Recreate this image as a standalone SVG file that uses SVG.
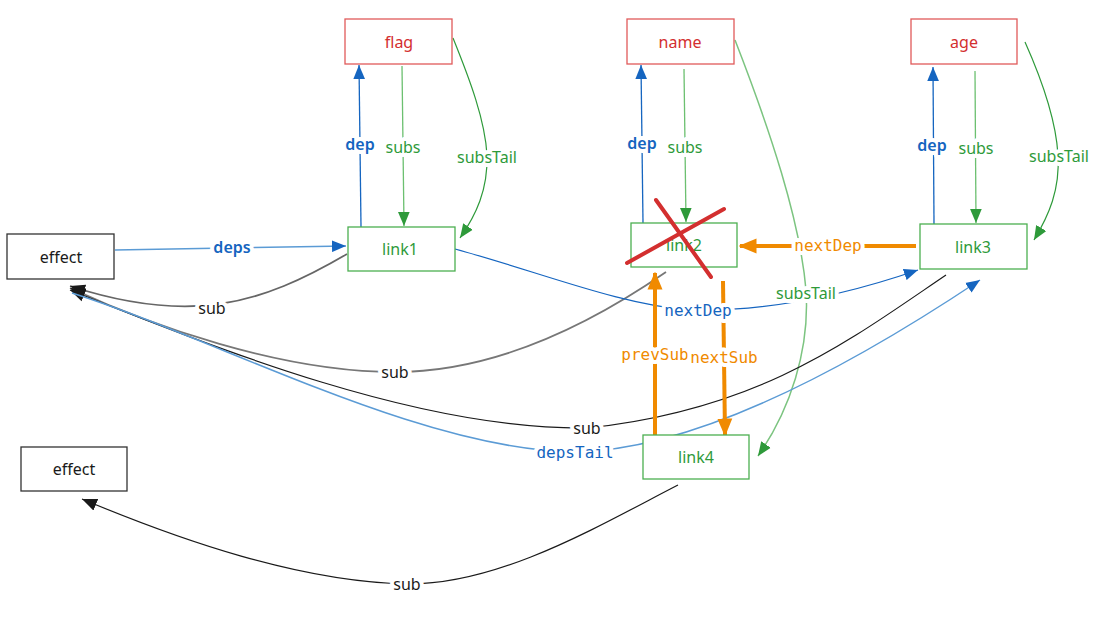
<svg xmlns="http://www.w3.org/2000/svg" width="1100" height="620" viewBox="0 0 1100 620">
<style>
.bg{fill:#ffffff}
.node rect{fill:#ffffff;stroke-width:1.3}
.node text{font-family:"Noto Sans","Open Sans",sans-serif;font-size:16px;text-anchor:middle;dominant-baseline:central}
.sig rect{stroke:#e05a5a}
.sig text{fill:#d32f2f}
.lnk rect{stroke:#4caf50}
.lnk text{fill:#2e9a3a}
.eff rect{stroke:#333333}
.eff text{fill:#1a1a1a}
.c{fill:none}
.lbl{font-family:"Noto Sans","Open Sans",sans-serif;font-size:16px;text-anchor:middle;dominant-baseline:central;stroke:#ffffff;stroke-width:8px;stroke-linejoin:round;paint-order:stroke}
.mono{font-family:"DejaVu Sans Mono","Liberation Mono",monospace;font-size:16px}
.blueL{fill:#1565c0}
.greenL{fill:#2e9a3a}
.orangeL{fill:#f08a00}
.blackL{fill:#1a1a1a}
</style>
<defs>
<marker id="aBlue" viewBox="0 0 12 10" refX="12" refY="5" markerWidth="14" markerHeight="12" markerUnits="userSpaceOnUse" orient="auto"><path d="M0,0L12,5L0,10z" fill="#1565c0"/></marker>
<marker id="aGreen" viewBox="0 0 12 10" refX="12" refY="5" markerWidth="14" markerHeight="12" markerUnits="userSpaceOnUse" orient="auto"><path d="M0,0L12,5L0,10z" fill="#2e9a3a"/></marker>
<marker id="aBlack" viewBox="0 0 12 10" refX="12" refY="5" markerWidth="15" markerHeight="13" markerUnits="userSpaceOnUse" orient="auto"><path d="M0,0L12,5L0,10z" fill="#1a1a1a"/></marker>
<marker id="aOrange" viewBox="0 0 12 10" refX="11" refY="5" markerWidth="18" markerHeight="17" markerUnits="userSpaceOnUse" orient="auto"><path d="M0,0L12,5L0,10z" fill="#f08a00"/></marker>
</defs>
<rect class="bg" x="0" y="0" width="1100" height="620"/>

<g id="connectors">
  <path class="c" d="M115,250 L346,246" stroke="#5b9bd5" stroke-width="1.5" marker-end="url(#aBlue)"/>
  <path class="c" d="M361,227 L359,65" stroke="#1565c0" stroke-width="1.3" marker-end="url(#aBlue)"/>
  <path class="c" d="M643,223 L641,65" stroke="#1565c0" stroke-width="1.3" marker-end="url(#aBlue)"/>
  <path class="c" d="M934,224 L933,67" stroke="#1565c0" stroke-width="1.3" marker-end="url(#aBlue)"/>
  <path class="c" d="M402,66 L404,226" stroke="#6cc070" stroke-width="1.3" marker-end="url(#aGreen)"/>
  <path class="c" d="M684,69 L686,222" stroke="#6cc070" stroke-width="1.3" marker-end="url(#aGreen)"/>
  <path class="c" d="M975,71 L976,223" stroke="#6cc070" stroke-width="1.3" marker-end="url(#aGreen)"/>
  <path class="c" d="M453,38 C470,80 485,120 487,155 C488,190 476,215 460,238" stroke="#2e9a3a" stroke-width="1.2" marker-end="url(#aGreen)"/>
  <path class="c" d="M1025,42 C1042,80 1056,120 1058,155 C1060,190 1049,215 1034,240" stroke="#2e9a3a" stroke-width="1.2" marker-end="url(#aGreen)"/>
  <path class="c" d="M735,40 C770,130 800,220 806,290 C810,350 790,410 758,456" stroke="#7cc480" stroke-width="1.5" marker-end="url(#aGreen)"/>
  <path class="c" d="M347,254 C260,305 190,325 70,286" stroke="#666666" stroke-width="1.8" marker-end="url(#aBlack)"/>
  <path class="c" d="M666,272 C560,345 470,372 395,372 C280,372 150,325 70,288" stroke="#777777" stroke-width="1.8" marker-end="url(#aBlack)"/>
  <path class="c" d="M946,275 C850,340 760,410 587,428 C420,430 220,350 70,290" stroke="#1a1a1a" stroke-width="1.2" marker-end="url(#aBlack)"/>
  <path class="c" d="M72,293 C220,340 420,450 575,452 C700,450 860,360 980,280" stroke="#5b9bd5" stroke-width="1.5" marker-end="url(#aBlue)"/>
  <path class="c" d="M455,249 C540,272 620,305 690,310 C780,312 860,290 918,270" stroke="#1565c0" stroke-width="1.2" marker-end="url(#aBlue)"/>
  <path class="c" d="M678,485 C600,525 500,585 407,584 C300,582 180,540 82,499" stroke="#1a1a1a" stroke-width="1.2" marker-end="url(#aBlack)"/>
  <path class="c" d="M916,246 L740,246" stroke="#f08a00" stroke-width="4" marker-end="url(#aOrange)"/>
  <path class="c" d="M655,435 L655,273" stroke="#f08a00" stroke-width="4" marker-end="url(#aOrange)"/>
  <path class="c" d="M723,281 L725,435" stroke="#f08a00" stroke-width="4" marker-end="url(#aOrange)"/>

  <text class="lbl blueL" x="232" y="247" font-weight="600">deps</text>
  <text class="lbl blueL" x="360" y="144" font-weight="600">dep</text>
  <text class="lbl blueL" x="642" y="143" font-weight="600">dep</text>
  <text class="lbl blueL" x="932" y="145" font-weight="600">dep</text>
  <text class="lbl greenL" x="403" y="147">subs</text>
  <text class="lbl greenL" x="685" y="147">subs</text>
  <text class="lbl greenL" x="976" y="148">subs</text>
  <text class="lbl greenL" x="487" y="157">subsTail</text>
  <text class="lbl greenL" x="1059" y="156">subsTail</text>
  <text class="lbl blackL" x="212" y="308">sub</text>
  <text class="lbl blackL" x="395" y="372">sub</text>
  <text class="lbl blackL" x="587" y="428">sub</text>
  <text class="lbl blackL" x="407" y="584">sub</text>
  <text class="lbl mono blueL" x="698" y="310">nextDep</text>
  <text class="lbl greenL" x="806" y="293" stroke="none">subsTail</text>
  <text class="lbl mono blueL" x="575" y="452">depsTail</text>
  <text class="lbl mono orangeL" x="828" y="245">nextDep</text>
  <text class="lbl mono orangeL" x="655" y="354">prevSub</text>
  <text class="lbl mono orangeL" x="724" y="357">nextSub</text>
</g>

<g id="flag" class="node sig"><rect x="345" y="19" width="107" height="45"/><text x="399" y="42">flag</text></g>
<g id="name" class="node sig"><rect x="627" y="19" width="107" height="45"/><text x="680" y="42">name</text></g>
<g id="age" class="node sig"><rect x="911" y="19" width="106" height="45"/><text x="964" y="42">age</text></g>
<g id="effect1" class="node eff"><rect x="7" y="234" width="107" height="45"/><text x="61" y="257">effect</text></g>
<g id="effect2" class="node eff"><rect x="21" y="447" width="106" height="44"/><text x="74" y="469">effect</text></g>
<g id="link1" class="node lnk"><rect x="348" y="227" width="107" height="44"/><text x="400" y="249">link1</text></g>
<g id="link2" class="node lnk"><rect x="631" y="223" width="106" height="44" style="fill:none"/><text x="684" y="245">link2</text></g>
<g id="link3" class="node lnk"><rect x="920" y="224" width="107" height="45"/><text x="973" y="247">link3</text></g>
<g id="link4" class="node lnk"><rect x="643" y="435" width="106" height="44"/><text x="696" y="457">link4</text></g>

<g id="cross">
  <path d="M656,200 L711,277 M627,263 L724,209" stroke="#d32f2f" stroke-width="4" stroke-linecap="round" fill="none"/>
</g>
</svg>
